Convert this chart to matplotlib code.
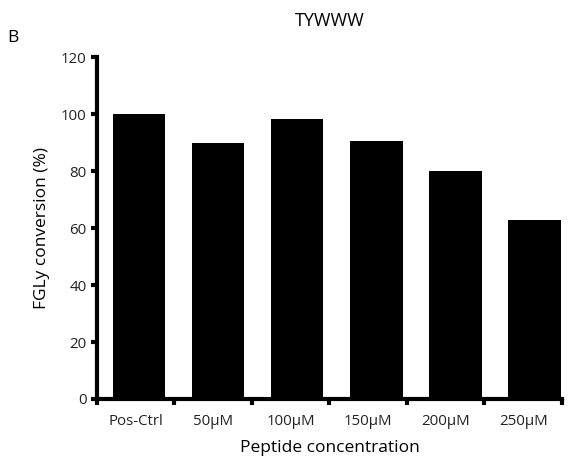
import numpy as np
import matplotlib.pyplot as plt

categories = ["Pos-Ctrl", "50μM", "100μM", "150μM", "200μM", "250μM"]
conversion = [100, 89.8, 98.4, 90.7, 80, 62.7]

plt.rcParams["font.family"] = ["Open Sans", "DejaVu Sans"]

fig = plt.figure(figsize=(5.74, 4.61), dpi=100)
ax = fig.add_axes([0.169, 0.1345, 0.81, 0.7415])

x = np.arange(len(categories))
ax.bar(x, conversion, width=0.665, color="black")

x0, x1 = -0.531, 5.348
ax.set_xlim(x0, x1)
ax.set_ylim(0, 120)
ax.set_yticks(range(0, 121, 20))

# Excel-style category ticks: boundaries spread evenly along the axis
edges = np.linspace(x0, x1, len(categories) + 1)
ax.set_xticks(edges)
ax.set_xticklabels([])
ax.set_xticks((edges[:-1] + edges[1:]) / 2, minor=True)
ax.set_xticklabels(categories, minor=True, fontsize=10.8, color="#222222")
ax.tick_params(axis="x", which="minor", length=0, pad=11)
ax.tick_params(axis="x", which="major", length=4, width=3, direction="out")
ax.tick_params(axis="y", length=4, width=3, direction="out", labelsize=10.8,
               labelcolor="#222222", color="black")

for side in ["top", "right"]:
    ax.spines[side].set_visible(False)
for side in ["left", "bottom"]:
    ax.spines[side].set_linewidth(3)

ax.set_xlabel("Peptide concentration", fontsize=12.5, labelpad=8)
ax.set_ylabel("FGLy conversion (%)", fontsize=12.5, labelpad=8)
fig.text(0.575, 0.955, "TYWWW", ha="center", va="center", fontsize=13)
fig.text(0.022, 0.918, "B", ha="center", va="center", fontsize=12.5)

fig.savefig("out.png", dpi=100)
